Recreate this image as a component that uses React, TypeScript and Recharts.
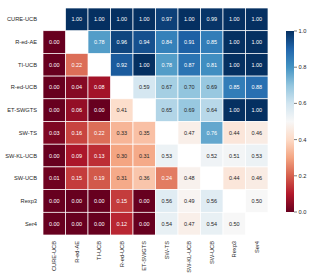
import React from 'react';
import { ScatterChart, Scatter, XAxis, YAxis, Customized } from 'recharts';

const algorithms = ['CURE-UCB', 'R-ed-AE', 'TI-UCB', 'R-ed-UCB', 'ET-SWGTS', 'SW-TS', 'SW-KL-UCB', 'SW-UCB', 'Rexp3', 'Ser4'];

// win-rate matrix, row vs column (null on the diagonal)
const cureUcb = [null, 1.0, 1.0, 1.0, 1.0, 0.97, 1.0, 0.99, 1.0, 1.0];
const redAe = [0.0, null, 0.78, 0.96, 0.94, 0.84, 0.91, 0.85, 1.0, 1.0];
const tiUcb = [0.0, 0.22, null, 0.92, 1.0, 0.78, 0.87, 0.81, 1.0, 1.0];
const redUcb = [0.0, 0.04, 0.08, null, 0.59, 0.67, 0.7, 0.69, 0.85, 0.88];
const etSwgts = [0.0, 0.06, 0.0, 0.41, null, 0.65, 0.69, 0.64, 1.0, 1.0];
const swTs = [0.03, 0.16, 0.22, 0.33, 0.35, null, 0.47, 0.76, 0.44, 0.46];
const swKlUcb = [0.0, 0.09, 0.13, 0.3, 0.31, 0.53, null, 0.52, 0.51, 0.53];
const swUcb = [0.01, 0.15, 0.19, 0.31, 0.36, 0.24, 0.48, null, 0.44, 0.46];
const rexp3 = [0.0, 0.0, 0.0, 0.15, 0.0, 0.56, 0.49, 0.56, null, 0.5];
const ser4 = [0.0, 0.0, 0.0, 0.12, 0.0, 0.54, 0.47, 0.54, 0.5, null];

const rows = [cureUcb, redAe, tiUcb, redUcb, etSwgts, swTs, swKlUcb, swUcb, rexp3, ser4];
const colorbarTicks = [0, 0.2, 0.4, 0.6, 0.8, 1.0];

// matplotlib RdBu
const rdBu = ['#67001f', '#b2182b', '#d6604d', '#f4a582', '#fddbc7', '#f7f7f7', '#d1e5f0', '#92c5de', '#4393c3', '#2166ac', '#053061'];

const hexToRgb = (h: string) => [1, 3, 5].map((i) => parseInt(h.slice(i, i + 2), 16));

const rgbFor = (v: number) => {
  const t = Math.max(0, Math.min(1, v)) * (rdBu.length - 1);
  const i = Math.min(Math.floor(t), rdBu.length - 2);
  const f = t - i;
  const a = hexToRgb(rdBu[i]);
  const b = hexToRgb(rdBu[i + 1]);
  return a.map((c, k) => Math.round(c + (b[k] - c) * f));
};

const colorFor = (v: number) => {
  const [r, g, b] = rgbFor(v);
  return `rgb(${r},${g},${b})`;
};

const textColorFor = (v: number) => {
  const lin = rgbFor(v).map((c) => {
    const s = c / 255;
    return s <= 0.03928 ? s / 12.92 : Math.pow((s + 0.055) / 1.055, 2.4);
  });
  const lum = 0.2126 * lin[0] + 0.7152 * lin[1] + 0.0722 * lin[2];
  return lum > 0.408 ? '#262626' : '#ffffff';
};

const cells = rows.flatMap((row, r) =>
  row.map((v, c) => ({ x: c, y: r, v })).filter((d) => d.v !== null)
);

const W = 309;
const H = 278;
const margin = { top: 8, right: 41, left: 0, bottom: 0 };
const yAxisW = 43;
const xAxisH = 43;
const cellW = (W - margin.left - margin.right - yAxisW) / algorithms.length;
const cellH = (H - margin.top - margin.bottom - xAxisH) / algorithms.length;

const font = 'Liberation Sans, Arial, sans-serif';

const HeatCell = (props: any) => {
  const { cx, cy, payload } = props;
  const v = payload.v as number;
  return (
    <g>
      <rect x={cx - cellW / 2} y={cy - cellH / 2} width={cellW} height={cellH} fill={colorFor(v)} stroke="#ffffff" strokeWidth={0.7} />
      <text x={cx} y={cy} textAnchor="middle" dominantBaseline="central" fontSize={5.5} fontFamily={font} fill={textColorFor(v)}>
        {v.toFixed(2)}
      </text>
    </g>
  );
};

const XTick = (props: any) => {
  const { x, y, payload } = props;
  return (
    <g transform={`translate(${x},${y})`}>
      <text transform="rotate(-90)" textAnchor="end" dy="0.35em" fontSize={5.7} fontFamily={font} fill="#262626">
        {algorithms[payload.value]}
      </text>
    </g>
  );
};

const ColorBar = () => {
  const left = 286;
  const width = 8;
  const top = 31;
  const bottom = 212;
  return (
    <g>
      <defs>
        <linearGradient id="rdbu" x1="0" y1="1" x2="0" y2="0">
          {rdBu.map((c, i) => (
            <stop key={c} offset={i / (rdBu.length - 1)} stopColor={c} />
          ))}
        </linearGradient>
      </defs>
      <rect x={left} y={top} width={width} height={bottom - top} fill="url(#rdbu)" />
      {colorbarTicks.map((t) => {
        const ty = bottom - t * (bottom - top);
        return (
          <g key={t}>
            <line x1={left + width} x2={left + width + 3} y1={ty} y2={ty} stroke="#262626" strokeWidth={0.6} />
            <text x={left + width + 4.5} y={ty} dominantBaseline="central" fontSize={5.7} fontFamily={font} fill="#262626">
              {t.toFixed(1)}
            </text>
          </g>
        );
      })}
    </g>
  );
};

export default function App() {
  return (
    <div style={{ position: 'absolute', left: 0, top: 0, width: W, height: H, background: '#ffffff' }}>
      <ScatterChart width={W} height={H} margin={margin}>
        <XAxis
          type="number"
          dataKey="x"
          domain={[-0.5, algorithms.length - 0.5]}
          ticks={algorithms.map((_, i) => i)}
          interval={0}
          height={xAxisH}
          axisLine={false}
          tickLine={false}
          tickSize={4}
          tickMargin={2}
          tick={<XTick />}
        />
        <YAxis
          type="number"
          dataKey="y"
          reversed
          domain={[-0.5, algorithms.length - 0.5]}
          ticks={algorithms.map((_, i) => i)}
          interval={0}
          width={yAxisW}
          axisLine={false}
          tickLine={false}
          tickSize={4}
          tickMargin={2}
          tickFormatter={(i: number) => algorithms[i]}
          tick={{ fontSize: 5.7, fill: '#262626', fontFamily: font }}
        />
        <Scatter data={cells} shape={<HeatCell />} isAnimationActive={false} />
        <Customized component={ColorBar} />
      </ScatterChart>
    </div>
  );
}
